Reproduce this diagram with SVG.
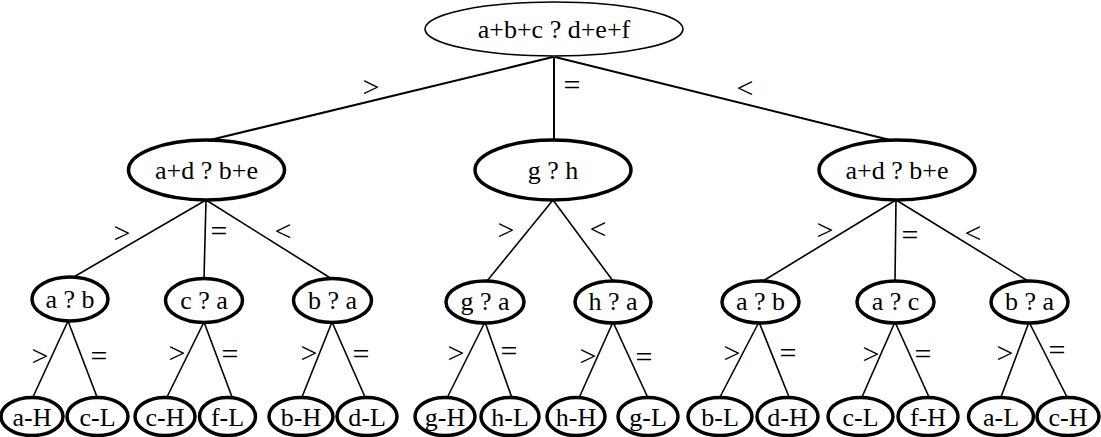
<svg xmlns="http://www.w3.org/2000/svg" width="1101" height="437" viewBox="0 0 1101 437">
<style>
text{font-size:26px;fill:#000;text-anchor:middle}
.lb{font-size:30px}
ellipse{fill:#fff;stroke:#000;stroke-width:3.5}
#root ellipse{stroke-width:1.6}
#edges line{stroke:#000;stroke-width:1.6}
#edges line.t{stroke-width:2}
</style>
<rect width="1101" height="437" fill="#fff"/>
<g id="edges">
<line class="t" x1="553" y1="57" x2="210" y2="140"/>
<line class="t" x1="554" y1="57" x2="554" y2="140"/>
<line class="t" x1="555" y1="57" x2="890" y2="140"/>
<line x1="206" y1="200" x2="72" y2="278"/>
<line x1="206" y1="200" x2="204" y2="279"/>
<line x1="206" y1="200" x2="332" y2="279"/>
<line x1="553" y1="200" x2="487" y2="281"/>
<line x1="553" y1="200" x2="613" y2="281"/>
<line x1="896" y1="200" x2="763" y2="281"/>
<line x1="896" y1="200" x2="895" y2="281"/>
<line x1="896" y1="200" x2="1028" y2="281"/>
<line x1="68" y1="321" x2="33" y2="397"/>
<line x1="68" y1="321" x2="97" y2="397"/>
<line x1="204" y1="322" x2="167" y2="397"/>
<line x1="204" y1="322" x2="232" y2="397"/>
<line x1="332" y1="322" x2="302" y2="397"/>
<line x1="332" y1="322" x2="365" y2="397"/>
<line x1="485" y1="322" x2="447" y2="398"/>
<line x1="485" y1="322" x2="512" y2="398"/>
<line x1="613" y1="322" x2="579" y2="398"/>
<line x1="613" y1="322" x2="648" y2="398"/>
<line x1="759" y1="322" x2="720" y2="397"/>
<line x1="759" y1="322" x2="789" y2="397"/>
<line x1="895" y1="322" x2="862" y2="397"/>
<line x1="895" y1="322" x2="929" y2="397"/>
<line x1="1029" y1="322" x2="1001" y2="397"/>
<line x1="1029" y1="322" x2="1067" y2="397"/>
</g>
<g font-family="'Liberation Serif', 'Times New Roman', serif">
<g id="labels">
<text class="lb" x="371" y="97">&gt;</text>
<text class="lb" x="572" y="95">=</text>
<text class="lb" x="745" y="98">&lt;</text>
<text class="lb" x="122" y="243">&gt;</text>
<text class="lb" x="219" y="241">=</text>
<text class="lb" x="283" y="241">&lt;</text>
<text class="lb" x="506" y="240">&gt;</text>
<text class="lb" x="598" y="239">&lt;</text>
<text class="lb" x="825" y="240">&gt;</text>
<text class="lb" x="910" y="245">=</text>
<text class="lb" x="973" y="243">&lt;</text>
<text class="lb" x="40" y="366">&gt;</text>
<text class="lb" x="99" y="366">=</text>
<text class="lb" x="177" y="363">&gt;</text>
<text class="lb" x="230" y="364">=</text>
<text class="lb" x="309" y="363">&gt;</text>
<text class="lb" x="361" y="364">=</text>
<text class="lb" x="456" y="363">&gt;</text>
<text class="lb" x="509" y="361">=</text>
<text class="lb" x="588" y="366">&gt;</text>
<text class="lb" x="644" y="367">=</text>
<text class="lb" x="732" y="363">&gt;</text>
<text class="lb" x="788" y="363">=</text>
<text class="lb" x="871" y="364">&gt;</text>
<text class="lb" x="923" y="364">=</text>
<text class="lb" x="1005" y="363">&gt;</text>
<text class="lb" x="1057" y="360">=</text>
</g>
<g id="root"><ellipse cx="554" cy="29" rx="129" ry="27"/><text x="554" y="38">a+b+c ? d+e+f</text></g>
<g id="n_l"><ellipse cx="206.5" cy="170" rx="78" ry="30"/><text x="206.5" y="179">a+d ? b+e</text></g>
<g id="n_m"><ellipse cx="553" cy="170" rx="78" ry="30"/><text x="553" y="179">g ? h</text></g>
<g id="n_r"><ellipse cx="897" cy="170" rx="78" ry="30"/><text x="897" y="179">a+d ? b+e</text></g>
<g id="n_ab1"><ellipse cx="70" cy="299" rx="38" ry="22"/><text x="70" y="308">a ? b</text></g>
<g id="n_ca"><ellipse cx="204" cy="300.5" rx="38.5" ry="22"/><text x="204" y="309">c ? a</text></g>
<g id="n_ba1"><ellipse cx="332.5" cy="300.5" rx="39" ry="22"/><text x="332.5" y="309">b ? a</text></g>
<g id="n_ga"><ellipse cx="485" cy="302" rx="39" ry="21"/><text x="485" y="310">g ? a</text></g>
<g id="n_ha"><ellipse cx="613" cy="302" rx="38" ry="21"/><text x="613" y="310">h ? a</text></g>
<g id="n_ab2"><ellipse cx="760.5" cy="302" rx="38.5" ry="21"/><text x="760.5" y="310">a ? b</text></g>
<g id="n_ac"><ellipse cx="895.5" cy="302" rx="38.5" ry="21"/><text x="895.5" y="310">a ? c</text></g>
<g id="n_ba2"><ellipse cx="1029.5" cy="302" rx="38.5" ry="21"/><text x="1029.5" y="310">b ? a</text></g>
<g id="l1"><ellipse cx="32" cy="416.5" rx="31" ry="19"/><text x="32" y="426">a-H</text></g>
<g id="l2"><ellipse cx="97.5" cy="416.5" rx="30.5" ry="19"/><text x="97.5" y="426">c-L</text></g>
<g id="l3"><ellipse cx="165" cy="416.5" rx="30" ry="19"/><text x="165" y="426">c-H</text></g>
<g id="l4"><ellipse cx="227.5" cy="416.5" rx="28" ry="19"/><text x="227.5" y="426">f-L</text></g>
<g id="l5"><ellipse cx="301" cy="416.5" rx="32" ry="19"/><text x="301" y="426">b-H</text></g>
<g id="l6"><ellipse cx="367" cy="416.5" rx="30" ry="19"/><text x="367" y="426">d-L</text></g>
<g id="l7"><ellipse cx="445" cy="416.5" rx="30" ry="19"/><text x="445" y="426">g-H</text></g>
<g id="l8"><ellipse cx="510" cy="416.5" rx="29" ry="19"/><text x="510" y="426">h-L</text></g>
<g id="l9"><ellipse cx="576" cy="416.5" rx="29" ry="19"/><text x="576" y="426">h-H</text></g>
<g id="l10"><ellipse cx="648" cy="416.5" rx="30" ry="19"/><text x="648" y="426">g-L</text></g>
<g id="l11"><ellipse cx="720" cy="416.5" rx="32" ry="19"/><text x="720" y="426">b-L</text></g>
<g id="l12"><ellipse cx="787.5" cy="416.5" rx="30.5" ry="19"/><text x="787.5" y="426">d-H</text></g>
<g id="l13"><ellipse cx="860.5" cy="416.5" rx="32.5" ry="19"/><text x="860.5" y="426">c-L</text></g>
<g id="l14"><ellipse cx="928" cy="416.5" rx="30" ry="19"/><text x="928" y="426">f-H</text></g>
<g id="l15"><ellipse cx="1001" cy="416.5" rx="32.5" ry="19"/><text x="1001" y="426">a-L</text></g>
<g id="l16"><ellipse cx="1068" cy="416.5" rx="31" ry="19"/><text x="1068" y="426">c-H</text></g>
</g>
</svg>
